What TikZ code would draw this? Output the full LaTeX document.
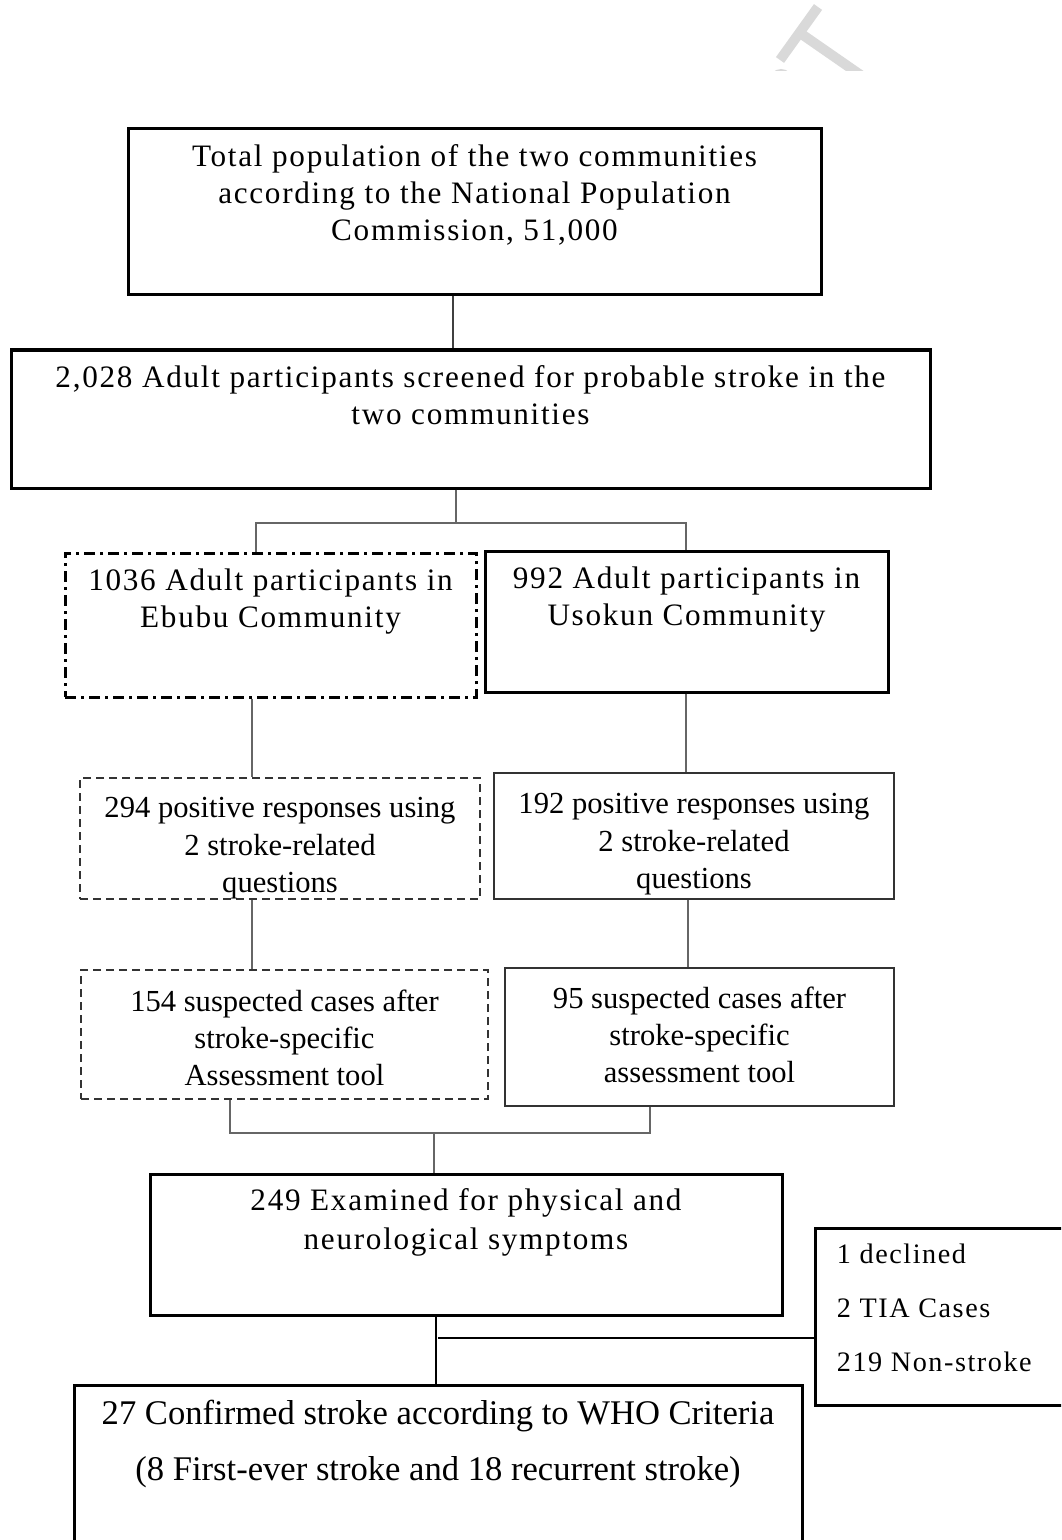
\documentclass[tikz,border=0pt]{standalone}
\usepackage{fontspec}
\setmainfont{Liberation Serif}
\newfontfamily\widefont[LetterSpace=5.5]{Liberation Serif}
\usetikzlibrary{positioning, fit, calc}

\begin{document}
\begin{tikzpicture}[x=0.5pt, y=-0.5pt,
  thickbox/.style={draw=black, line width=1.5pt, inner sep=0pt},
  thinbox/.style={draw=black!80, line width=0.8pt, inner sep=0pt},
  dashbox/.style={thinbox, dash pattern=on 4pt off 2.5pt},
  dashdotbox/.style={thickbox, dash pattern=on 5.5pt off 2.5pt on 1.5pt off 2.5pt},
  link/.style={draw=black!60, line width=0.75pt},
  trunk/.style={draw=black!75, line width=1pt},
  strong/.style={draw=black, line width=1.4pt},
  wmark/.style={draw=black!15, line width=5pt},
  widetxt/.style={align=center, inner sep=0pt, font=\widefont\fontsize{15.6}{18.5}\selectfont},
  plaintxt/.style={align=center, inner sep=0pt, font=\fontsize{15.3}{18.6}\selectfont},
  bigtxt/.style={align=center, inner sep=0pt, font=\fontsize{17.3}{28}\selectfont},
  sidetxt/.style={align=left, inner sep=0pt, font=\widefont\fontsize{14.1}{27}\selectfont}]
  \useasboundingbox (0,0) rectangle (1061,1540);
  \clip (0,0) rectangle (1061,1540);

  % faint watermark at the top
  \begin{scope}
    \clip (700,0) rectangle (900,71);
    \draw[wmark] (780,60) -- (818,7);
    \draw[wmark] (800,33) -- (862,76);
    \fill[black!15] (781,81) circle (12);
  \end{scope}

  % boxes
  \node[thickbox, fit={(128,129) (821,295)}] (pop) {};
  \node[thickbox, fit={(11,350) (930,488)}] (screen) {};
  \node[dashdotbox, fit={(65,553) (476,697)}] (ebubu) {};
  \node[thickbox, fit={(485,551) (888,692)}] (usokun) {};
  \node[dashbox, fit={(80,778) (480,899)}] (ebubuq) {};
  \node[thinbox, fit={(494,773) (894,899)}] (usokunq) {};
  \node[dashbox, fit={(81,970) (488,1099)}] (ebubus) {};
  \node[thinbox, fit={(505,968) (894,1106)}] (usokuns) {};
  \node[thickbox, fit={(150,1174) (782,1315)}] (exam) {};
  \node[thickbox, fit={(815,1228) (1080,1405)}] (excl) {};
  \node[thickbox, fit={(74,1385) (802,1570)}] (confirmed) {};

  % texts
  \node[widetxt, below=8.5pt of pop.north] (popt) {Total population of the two communities\\according to the National Population\\Commission, 51,000};
  \node[widetxt, below=8.5pt of screen.north] (screent) {2,028 Adult participants screened for probable stroke in the\\two communities};
  \node[widetxt, below=8.5pt of ebubu.north] (ebubut) {1036 Adult participants in\\Ebubu Community};
  \node[widetxt, below=8.5pt of usokun.north] (usokunt) {992 Adult participants in\\Usokun Community};
  \node[plaintxt, below=10pt of ebubuq.north] (ebubuqt) {294 positive responses using\\2 stroke-related\\questions};
  \node[plaintxt, below=10.5pt of usokunq.north] (usokunqt) {192 positive responses using\\2 stroke-related\\questions};
  \node[plaintxt, below=10pt of ebubus.north] (ebubust) {154 suspected cases after\\stroke-specific\\Assessment tool};
  \node[plaintxt, below=9.5pt of usokuns.north] (usokunst) {95 suspected cases after\\stroke-specific\\assessment tool};
  \node[widetxt, below=8pt of exam.north, font=\widefont\fontsize{15.6}{19.5}\selectfont] (examt) {249 Examined for physical and\\neurological symptoms};
  \node[sidetxt, below right=8.5pt and 11.5pt of excl.north west] (exclt) {1 declined\\2 TIA Cases\\219 Non-stroke};
  \node[bigtxt, below=8pt of confirmed.north] (confirmedt) {27 Confirmed stroke according to WHO Criteria\\(8 First-ever stroke and 18 recurrent stroke)};

  % connectors
  \draw[trunk] (pop.south -| 453,0) -- (screen.north -| 453,0);
  \coordinate (split) at (456,523);
  \draw[link] (screen.south -| split) -- (split);
  \draw[link] (ebubu.north -| 256,0) |- (split) -| (usokun.north -| 686,0);
  \draw[link] (ebubu.south -| 252,0) -- (ebubuq.north -| 252,0);
  \draw[link] (usokun.south -| 686,0) -- (usokunq.north -| 686,0);
  \draw[link] (ebubuq.south -| 252,0) -- (ebubus.north -| 252,0);
  \draw[link] (usokunq.south -| 688,0) -- (usokuns.north -| 688,0);
  \coordinate (merge) at (434,1133);
  \draw[link] (ebubus.south -| 230,0) |- (merge) -| (usokuns.south -| 650,0);
  \draw[link] (merge) -- (exam.north -| merge);
  \draw[strong] (exam.south -| 436,0) -- (confirmed.north -| 436,0);
  \coordinate (aside) at (438,1338);
  \draw[strong, line width=1pt] (aside) -- (excl.west |- aside);
\end{tikzpicture}
\end{document}
